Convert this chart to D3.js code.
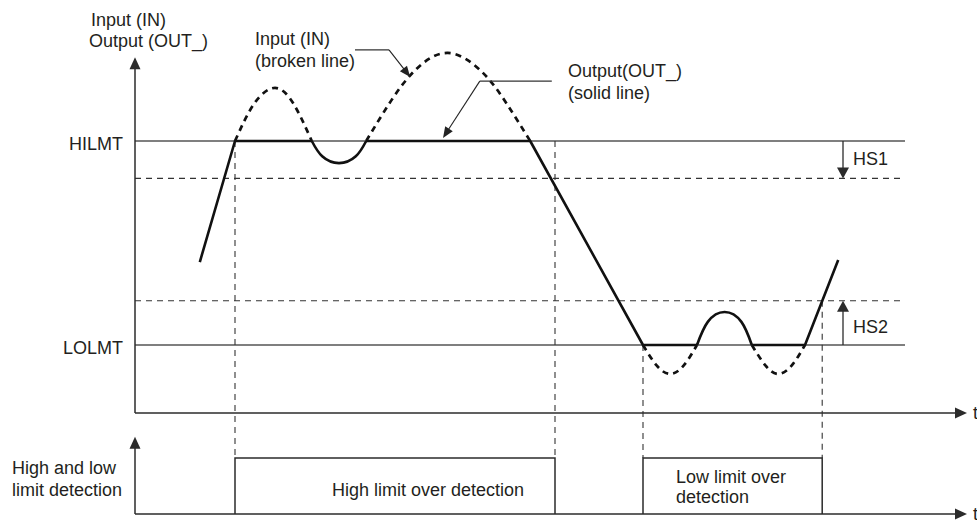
<!DOCTYPE html>
<html>
<head>
<meta charset="utf-8">
<script src="https://cdn.jsdelivr.net/npm/d3@7"></script>
<style>
  html, body { margin: 0; padding: 0; background: #fff; }
  svg { display: block; }
  text { font-family: "Liberation Sans", Arial, Helvetica, sans-serif; font-size: 18px; fill: #231f20; }
</style>
</head>
<body>
<svg id="chart" width="977" height="523"></svg>
<script>
// ---------------- DATA ----------------
// limits (value units)
const HILMT = 80;
const LOLMT = 20;
const HS1_LEVEL = 69;   // HILMT - HS1
const HS2_LEVEL = 33;   // LOLMT + HS2
const limitLabels = ["HILMT", "LOLMT"];
const limitValues = [HILMT, LOLMT];

// Output (solid line) straight segments [time, value]
const outputStraight = [
  [[8.1, 44.4], [12.5, 80], [22.1, 80]],
  [[28.9, 80], [49.4, 80], [63.5, 20], [70.25, 20]],
  [[77.1, 20], [83.75, 20], [87.9, 45]]
];
// Output curved parts (dip below HILMT, bump above LOLMT)
const outputCurves = [
  [[22.1, 80], [23.4, 75.5], [25.5, 73.5], [27.6, 75.5], [28.9, 80]],
  [[70.25, 20], [71.6, 26.8], [73.7, 29.7], [75.8, 26.8], [77.1, 20]]
];
// Input (broken line) parts where it differs from output
const inputCurves = [
  [[12.5, 80], [14.9, 91], [17.5, 95.6], [19.8, 91], [22.1, 80]],
  [[28.9, 80], [32.0, 91.8], [35.1, 101.0], [39.1, 105.9], [43.3, 100.5], [46.4, 91.2], [49.4, 80]],
  [[63.5, 20], [65.2, 14], [66.9, 11.5], [68.6, 14], [70.25, 20]],
  [[77.1, 20], [78.8, 14], [80.4, 11.5], [82.1, 14], [83.75, 20]]
];
// vertical guide lines: [time, top value]
const guideTimes = [12.5, 52.5, 63.5, 85.9];
const guideTops = [HILMT, HILMT, LOLMT, HS2_LEVEL];

// detection periods
const detectStart = [12.5, 63.5];
const detectEnd = [52.5, 85.9];
const detectLabels = [["High limit over detection"], ["Low limit over", "detection"]];

// callouts
const calloutIn = [[27.5, 106.8], [31.75, 106.8], [34.4, 98.8]];
const calloutOut = [[52.1, 97.6], [43.1, 97.6], [38.5, 80.9]];

// axis extents
const tMax = 104;
const vMax = 104.6;
const hsArrowTime = 88.5;
const limitLineEnd = 96.25;

// ---------------- SCALES ----------------
const svg = d3.select("#chart");
const x = d3.scaleLinear().domain([0, 100]).range([135, 935]);
const y = d3.scaleLinear().domain([0, 100]).range([413, 73]);
const yb = d3.scaleLinear().domain([0, 1]).range([514, 458]);

const axisColor = "#2b2b2b";
const lineGray = "#555";

function arrow(g, x1, y1, x2, y2, len, wid, color, sw) {
  const dx = x2 - x1, dy = y2 - y1, L = Math.hypot(dx, dy);
  const ux = dx / L, uy = dy / L;
  const bx = x2 - ux * len, by = y2 - uy * len;
  g.append("line").attr("x1", x1).attr("y1", y1).attr("x2", bx + ux * 1).attr("y2", by + uy * 1)
    .attr("stroke", color).attr("stroke-width", sw);
  const px = -uy * wid / 2, py = ux * wid / 2;
  g.append("path").attr("d", `M${x2},${y2}L${bx + px},${by + py}L${bx - px},${by - py}Z`).attr("fill", color);
}

const lineGen = d3.line().x(d => x(d[0])).y(d => y(d[1]));

// ---------------- LIMIT LINES ----------------
const g = svg.append("g");
limitValues.forEach((v, i) => {
  g.append("line").attr("x1", x(0)).attr("x2", x(limitLineEnd)).attr("y1", y(v)).attr("y2", y(v))
    .attr("stroke", lineGray).attr("stroke-width", 1.6);
  g.append("text").attr("x", 123).attr("y", y(v) + 9).attr("text-anchor", "end").text(limitLabels[i]);
});
[HS1_LEVEL, HS2_LEVEL].forEach(v => {
  g.append("line").attr("x1", x(0)).attr("x2", x(limitLineEnd)).attr("y1", y(v)).attr("y2", y(v))
    .attr("stroke", "#333").attr("stroke-width", 1.1).attr("stroke-dasharray", "6,5");
});

// guide verticals
guideTimes.forEach((t, i) => {
  g.append("line").attr("x1", x(t)).attr("x2", x(t)).attr("y1", y(guideTops[i])).attr("y2", yb(1))
    .attr("stroke", "#333").attr("stroke-width", 1.1).attr("stroke-dasharray", "6,5");
});

// ---------------- AXES ----------------
arrow(g, x(0), y(0), x(0), y(vMax), 12, 11, axisColor, 1.5);
arrow(g, x(0), y(0), x(tMax), y(0), 12, 11, axisColor, 1.5);
arrow(g, x(0), yb(0), x(0), yb(1.38), 12, 11, axisColor, 1.5);
arrow(g, x(0), yb(0), x(tMax), yb(0), 12, 11, axisColor, 1.5);
g.append("text").attr("x", 973).attr("y", y(0) + 6).text("t");
g.append("text").attr("x", 973).attr("y", yb(0) + 6).text("t");

// HS arrows
arrow(g, x(hsArrowTime), y(HILMT), x(hsArrowTime), y(HS1_LEVEL), 11, 12, axisColor, 1.3);
arrow(g, x(hsArrowTime), y(LOLMT), x(hsArrowTime), y(HS2_LEVEL), 11, 12, axisColor, 1.3);
g.append("text").attr("x", 853).attr("y", 165).text("HS1");
g.append("text").attr("x", 853).attr("y", 333).text("HS2");

// ---------------- SERIES ----------------
inputCurves.forEach(pts => {
  g.append("path").attr("d", lineGen.curve(d3.curveNatural)(pts))
    .attr("fill", "none").attr("stroke", "#111").attr("stroke-width", 2.7).attr("stroke-dasharray", "6,5");
});
outputStraight.forEach(pts => {
  g.append("path").attr("d", lineGen.curve(d3.curveLinear)(pts))
    .attr("fill", "none").attr("stroke", "#111").attr("stroke-width", 2.6).attr("stroke-linejoin", "round");
});
outputCurves.forEach(pts => {
  g.append("path").attr("d", lineGen.curve(d3.curveNatural)(pts))
    .attr("fill", "none").attr("stroke", "#111").attr("stroke-width", 2.6);
});

// ---------------- DETECTION BOXES ----------------
detectStart.forEach((s, i) => {
  const e = detectEnd[i];
  g.append("path").attr("d", `M${x(s)},${yb(0)}L${x(s)},${yb(1)}L${x(e)},${yb(1)}L${x(e)},${yb(0)}`)
    .attr("fill", "none").attr("stroke", axisColor).attr("stroke-width", 1.5);
});
g.append("text").attr("x", 332).attr("y", 496).text(detectLabels[0][0]);
detectLabels[1].forEach((l, j) => g.append("text").attr("x", 676).attr("y", 483 + j * 20).text(l));

// ---------------- LABELS ----------------
g.append("text").attr("x", 91).attr("y", 26).text("Input (IN)");
g.append("text").attr("x", 89).attr("y", 47).text("Output (OUT_)");
g.append("text").attr("x", 12).attr("y", 474).text("High and low");
g.append("text").attr("x", 12).attr("y", 496).text("limit detection");

g.append("text").attr("x", 255).attr("y", 45).text("Input (IN)");
g.append("text").attr("x", 255).attr("y", 67).text("(broken line)");
g.append("text").attr("x", 568).attr("y", 77).text("Output(OUT_)");
g.append("text").attr("x", 568).attr("y", 99).text("(solid line)");

// callout leaders
function callout(pts) {
  const p = pts.map(d => [x(d[0]), y(d[1])]);
  g.append("line").attr("x1", p[0][0]).attr("y1", p[0][1]).attr("x2", p[1][0]).attr("y2", p[1][1])
    .attr("stroke", "#333").attr("stroke-width", 1.1);
  arrow(g, p[1][0], p[1][1], p[2][0], p[2][1], 11, 9, "#222", 1.1);
}
callout(calloutIn);
callout(calloutOut);
</script>
</body>
</html>
